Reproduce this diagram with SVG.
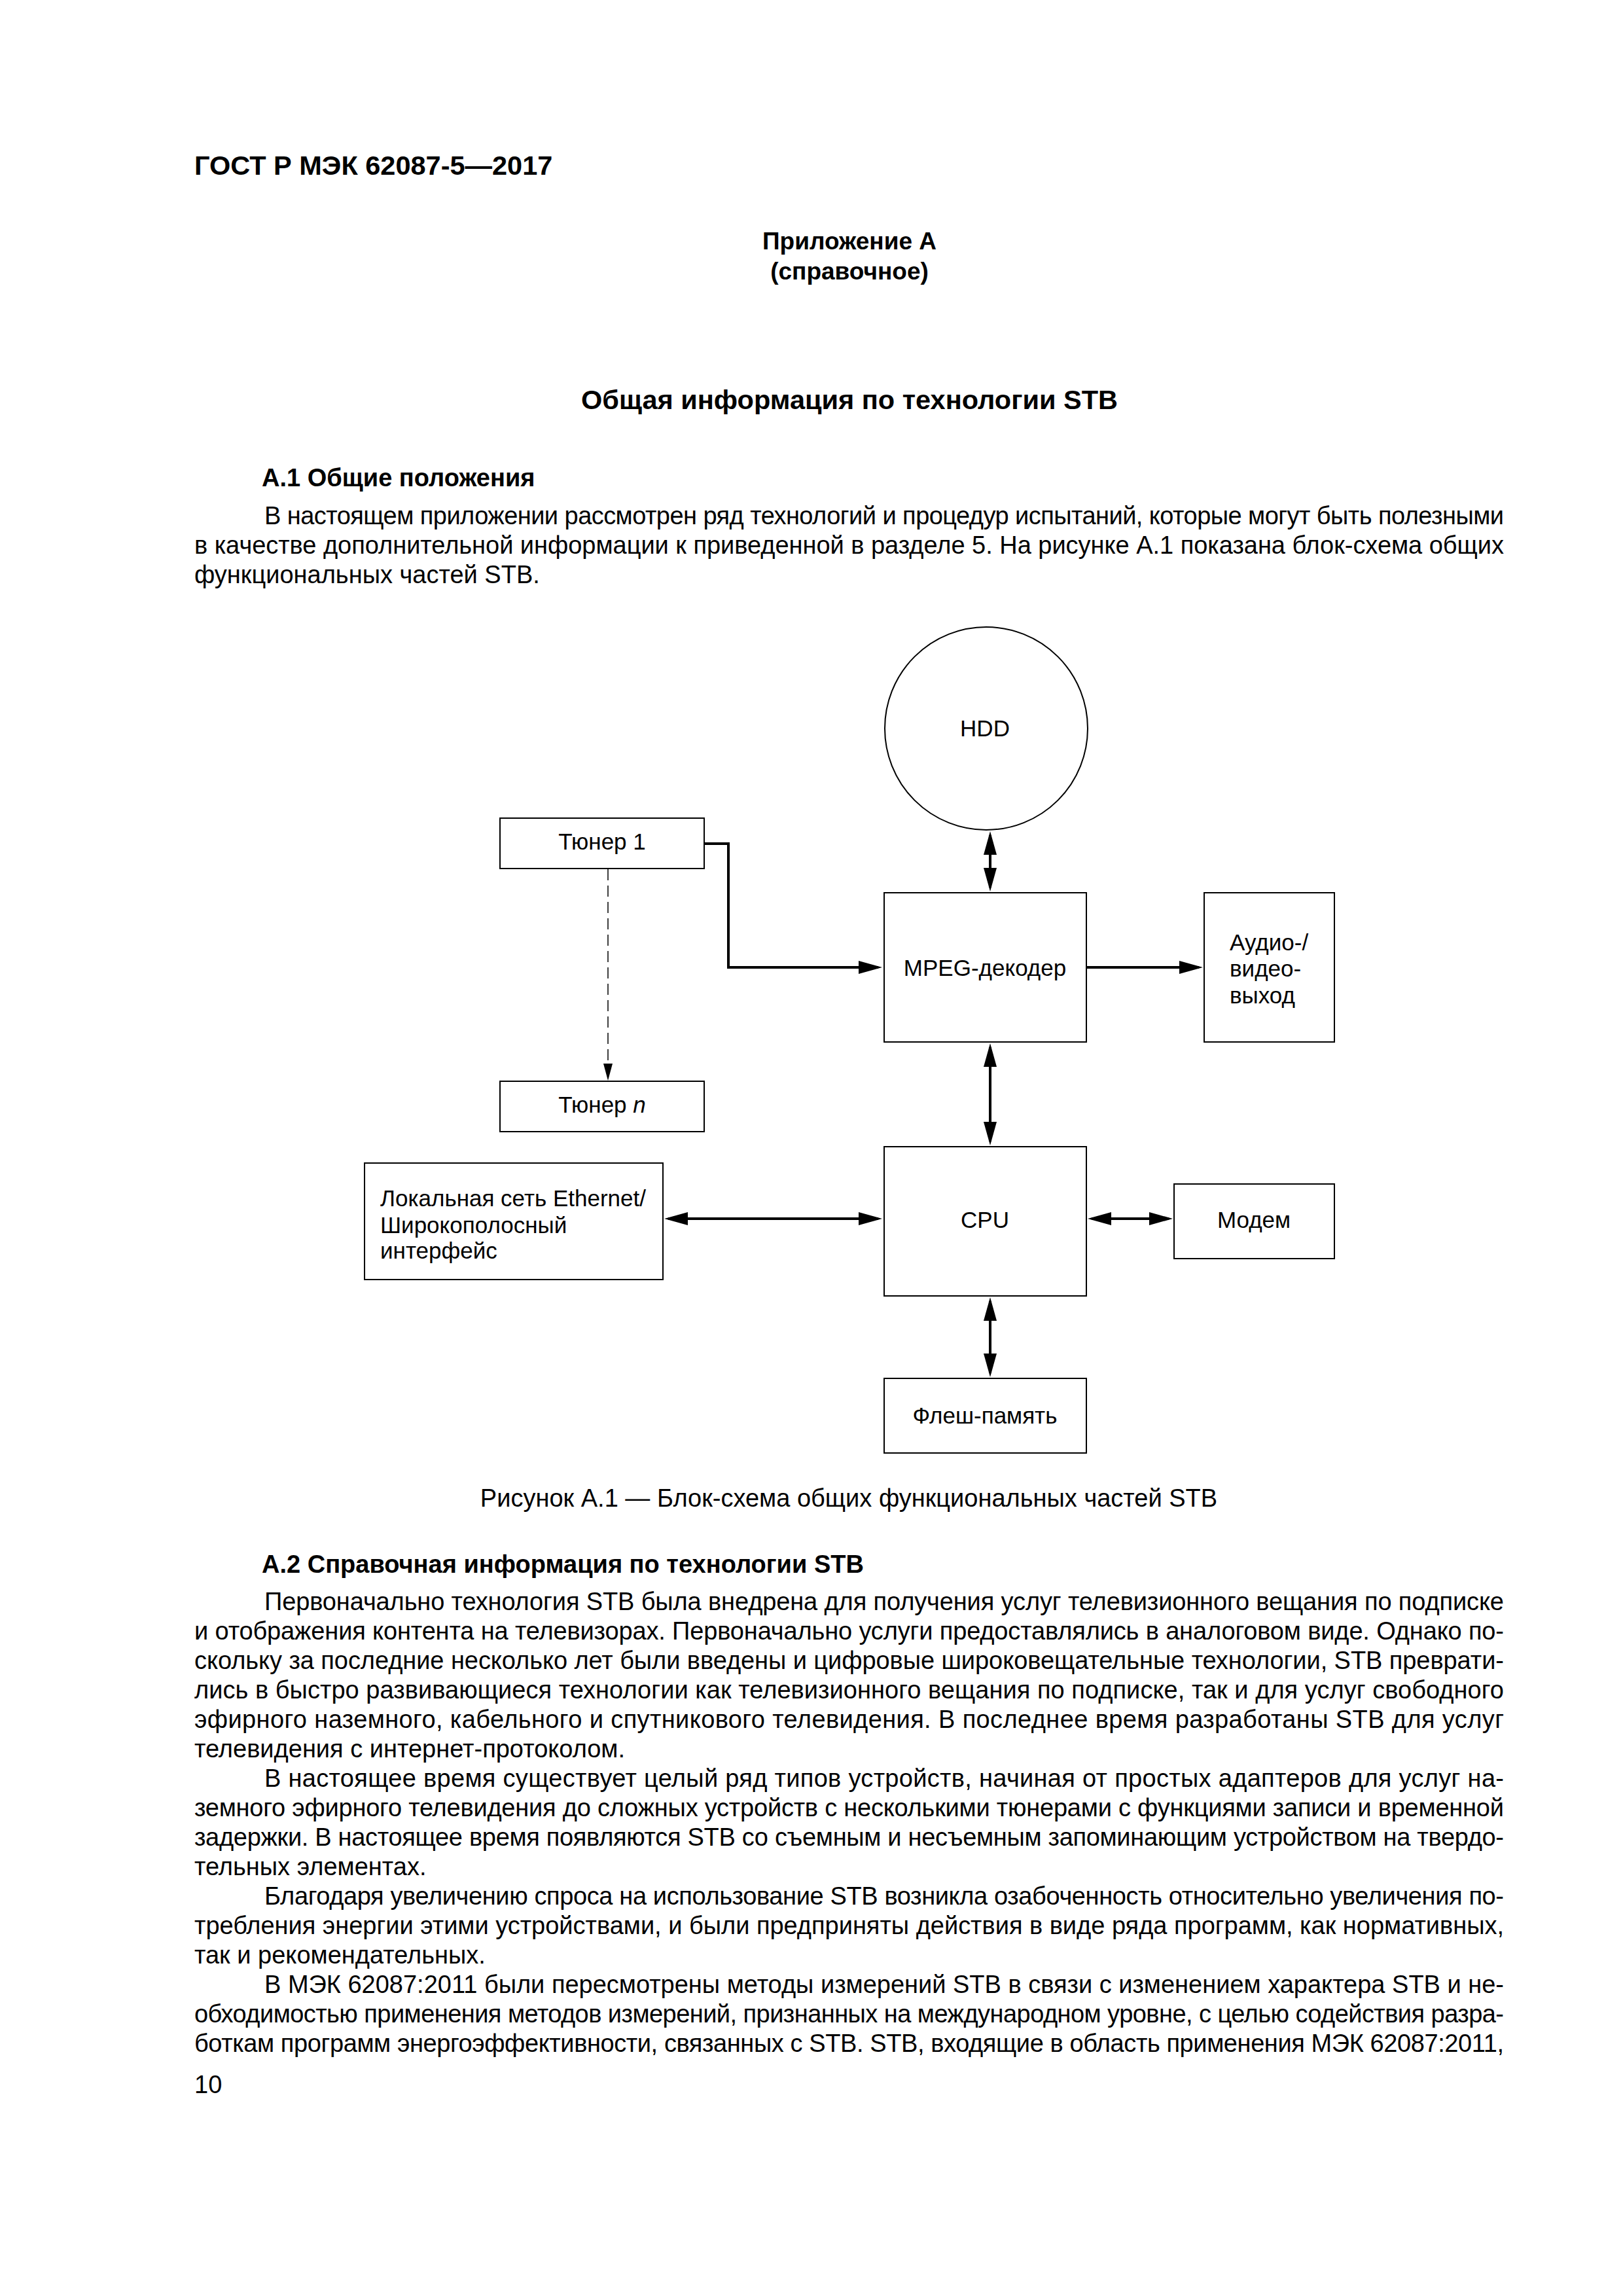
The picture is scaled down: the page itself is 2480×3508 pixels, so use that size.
<svg xmlns="http://www.w3.org/2000/svg" width="2480" height="3508" viewBox="0 0 2480 3508">
<style>
text{font-family:"Liberation Sans",Arial,sans-serif;fill:#000}
.b{font-weight:bold}
.body{font-size:38px}
.hd{font-size:38px;font-weight:bold}
.dg{font-size:35px}
.c{text-anchor:middle}
.box{fill:#fff;stroke:#000;stroke-width:2}
.ln{fill:none;stroke:#000;stroke-width:4}
.dash{fill:none;stroke:#000;stroke-width:1.5;stroke-dasharray:17 8}
</style>
<defs>
<marker id="ah" markerUnits="userSpaceOnUse" markerWidth="40" markerHeight="24" refX="30" refY="10" orient="auto-start-reverse">
<path d="M0,0 L36,10 L0,20 z" fill="#000"/>
</marker>
<marker id="ahs" markerUnits="userSpaceOnUse" markerWidth="30" markerHeight="20" refX="24" refY="7" orient="auto">
<path d="M0,0 L26,7 L0,14 z" fill="#000"/>
</marker>
</defs>
<rect width="2480" height="3508" fill="#fff"/>

<g id="page-text">
<text x="297" y="267" class="b" font-size="41.5">ГОСТ Р МЭК 62087-5—2017</text>
<text x="1298" y="381" class="b c" font-size="37">Приложение А</text>
<text x="1298" y="427" class="b c" font-size="37">(справочное)</text>
<text x="1298" y="625" class="b c" font-size="41.5">Общая информация по технологии STB</text>

<text x="400" y="743" class="hd">А.1 Общие положения</text>
<text x="404" y="801" class="body" textLength="1894" lengthAdjust="spacing">В настоящем приложении рассмотрен ряд технологий и процедур испытаний, которые могут быть полезными</text>
<text x="297" y="846" class="body" textLength="2001" lengthAdjust="spacing">в качестве дополнительной информации к приведенной в разделе 5. На рисунке А.1 показана блок-схема общих</text>
<text x="297" y="891" class="body">функциональных частей STB.</text>

<text x="1297" y="2302" class="body c">Рисунок А.1 — Блок-схема общих функциональных частей STB</text>

<text x="400" y="2403" class="hd">А.2 Справочная информация по технологии STB</text>
<text x="404" y="2460" class="body" textLength="1894" lengthAdjust="spacing">Первоначально технология STB была внедрена для получения услуг телевизионного вещания по подписке</text>
<text x="297" y="2505" class="body" textLength="2001" lengthAdjust="spacing">и отображения контента на телевизорах. Первоначально услуги предоставлялись в аналоговом виде. Однако по-</text>
<text x="297" y="2550" class="body" textLength="2001" lengthAdjust="spacing">скольку за последние несколько лет были введены и цифровые широковещательные технологии, STB преврати-</text>
<text x="297" y="2595" class="body" textLength="2001" lengthAdjust="spacing">лись в быстро развивающиеся технологии как телевизионного вещания по подписке, так и для услуг свободного</text>
<text x="297" y="2640" class="body" textLength="2001" lengthAdjust="spacing">эфирного наземного, кабельного и спутникового телевидения. В последнее время разработаны STB для услуг</text>
<text x="297" y="2685" class="body">телевидения с интернет-протоколом.</text>
<text x="404" y="2730" class="body" textLength="1894" lengthAdjust="spacing">В настоящее время существует целый ряд типов устройств, начиная от простых адаптеров для услуг на-</text>
<text x="297" y="2775" class="body" textLength="2001" lengthAdjust="spacing">земного эфирного телевидения до сложных устройств с несколькими тюнерами с функциями записи и временной</text>
<text x="297" y="2820" class="body" textLength="2001" lengthAdjust="spacing">задержки. В настоящее время появляются STB со съемным и несъемным запоминающим устройством на твердо-</text>
<text x="297" y="2865" class="body">тельных элементах.</text>
<text x="404" y="2910" class="body" textLength="1894" lengthAdjust="spacing">Благодаря увеличению спроса на использование STB возникла озабоченность относительно увеличения по-</text>
<text x="297" y="2955" class="body" textLength="2001" lengthAdjust="spacing">требления энергии этими устройствами, и были предприняты действия в виде ряда программ, как нормативных,</text>
<text x="297" y="3000" class="body">так и рекомендательных.</text>
<text x="404" y="3045" class="body" textLength="1894" lengthAdjust="spacing">В МЭК 62087:2011 были пересмотрены методы измерений STB в связи с изменением характера STB и не-</text>
<text x="297" y="3090" class="body" textLength="2001" lengthAdjust="spacing">обходимостью применения методов измерений, признанных на международном уровне, с целью содействия разра-</text>
<text x="297" y="3135" class="body" textLength="2001" lengthAdjust="spacing">боткам программ энергоэффективности, связанных с STB. STB, входящие в область применения МЭК 62087:2011,</text>
<text x="297" y="3198" class="body">10</text>
</g>

<g id="connectors">
<line class="ln" x1="1513" y1="1276" x2="1513" y2="1356" marker-start="url(#ah)" marker-end="url(#ah)"/>
<polyline class="ln" stroke-width="3.5" points="1076,1289 1113,1289 1113,1478 1342,1478" marker-end="url(#ah)"/>
<line class="ln" x1="1661" y1="1478" x2="1832" y2="1478" marker-end="url(#ah)"/>
<line class="ln" x1="1513" y1="1600" x2="1513" y2="1744" marker-start="url(#ah)" marker-end="url(#ah)"/>
<line class="ln" x1="1021" y1="1862" x2="1342" y2="1862" marker-start="url(#ah)" marker-end="url(#ah)"/>
<line class="ln" x1="1668" y1="1862" x2="1786" y2="1862" marker-start="url(#ah)" marker-end="url(#ah)"/>
<line class="ln" x1="1513" y1="1988" x2="1513" y2="2098" marker-start="url(#ah)" marker-end="url(#ah)"/>
<line class="dash" x1="929" y1="1328" x2="929" y2="1649" marker-end="url(#ahs)"/>
</g>

<g id="node-hdd">
<circle class="box" cx="1507" cy="1113" r="155"/>
<text x="1505" y="1125" class="dg c">HDD</text>
</g>
<g id="node-tuner1">
<rect class="box" x="764" y="1250" width="312" height="77"/>
<text x="920" y="1298" class="dg c">Тюнер 1</text>
</g>
<g id="node-tunern">
<rect class="box" x="764" y="1652" width="312" height="77"/>
<text x="920" y="1700" class="dg c">Тюнер <tspan font-style="italic">n</tspan></text>
</g>
<g id="node-mpeg">
<rect class="box" x="1351" y="1364" width="309" height="228"/>
<text x="1505" y="1491" class="dg c">MPEG-декодер</text>
</g>
<g id="node-av">
<rect class="box" x="1840" y="1364" width="199" height="228"/>
<text x="1879" y="1452" class="dg">Аудио-/</text>
<text x="1879" y="1492" class="dg">видео-</text>
<text x="1879" y="1533" class="dg">выход</text>
</g>
<g id="node-ethernet">
<rect class="box" x="557" y="1777" width="456" height="178"/>
<text x="581" y="1843" class="dg">Локальная сеть Ethernet/</text>
<text x="581" y="1884" class="dg">Широкополосный</text>
<text x="581" y="1923" class="dg">интерфейс</text>
</g>
<g id="node-cpu">
<rect class="box" x="1351" y="1752" width="309" height="228"/>
<text x="1505" y="1876" class="dg c">CPU</text>
</g>
<g id="node-modem">
<rect class="box" x="1794" y="1809" width="245" height="114"/>
<text x="1916" y="1876" class="dg c">Модем</text>
</g>
<g id="node-flash">
<rect class="box" x="1351" y="2106" width="309" height="114"/>
<text x="1505" y="2175" class="dg c">Флеш-память</text>
</g>
</svg>
